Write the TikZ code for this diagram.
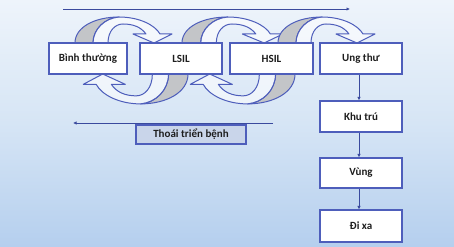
\documentclass[tikz,border=0pt]{standalone}
\usepackage{fontspec}
\setmainfont{Carlito}
\usetikzlibrary{arrows.meta}
\definecolor{bl}{HTML}{4E5EBB}
\definecolor{dk}{HTML}{3A4A9E}
\definecolor{bgtop}{HTML}{EEF4FB}
\definecolor{bgmid}{HTML}{D6E5F5}
\definecolor{bgbot}{HTML}{B5CFEE}
\definecolor{grayfill}{HTML}{C3C5C8}
\definecolor{lblfill}{HTML}{C9D5EA}
\definecolor{txt}{HTML}{1E1E1E}
\tikzset{
  x=1pt, y=1pt,
  box/.style={draw=bl, line width=1.3pt, fill=white, minimum height=31pt,
    inner sep=0pt, text=txt, font=\fontsize{11}{13}\selectfont\bfseries},
  lbl/.style={box, fill=lblfill, minimum width=110pt, minimum height=19pt},
  arcline/.style={draw=bl, line width=1pt, line join=round},
  flow/.style={draw=dk, line width=0.9pt, -{Latex[length=3.5pt,width=3.5pt]}},
}
\newcommand{\curvedband}{%
  \path[arcline, fill=grayfill] (0,0) .. controls (0,16) and (20,26) .. (44,26)
     .. controls (30,25) and (18,14) .. (18,0) -- cycle;
  \path[arcline, fill=white, fill opacity=0.55, draw opacity=1]
     (18,0) .. controls (18,14) and (30,25) .. (44,26)
     .. controls (64,26) and (80,18) .. (85,9)
     -- (97,9) -- (79,0) -- (58,9) -- (71,9)
     .. controls (66,16) and (58,19) .. (48,19)
     .. controls (40,19) and (33,12) .. (33,0) -- cycle;
}
\begin{document}
\begin{tikzpicture}
\useasboundingbox (0,0) rectangle (454,246);
\shade[top color=bgtop, bottom color=bgbot, middle color=bgmid] (0,0) rectangle (454,246);

% curved arrows (over the top)
\begin{scope}[shift={(75,203)}]\curvedband\end{scope}
\begin{scope}[shift={(182,203)}, xscale=1.04]\curvedband\end{scope}
\begin{scope}[shift={(278,203)}]\curvedband\end{scope}
% curved arrows (underneath)
\begin{scope}[shift={(188,172)}, rotate=180, xscale=1.08, yscale=1.15]\curvedband\end{scope}
\begin{scope}[shift={(295,172)}, rotate=180, xscale=1.08, yscale=1.15]\curvedband\end{scope}

% boxes
\node[box, minimum width=78pt] (bt) at (88,187.5) {Bình thường};
\node[box, minimum width=82pt] (lsil) at (181,187.5) {LSIL};
\node[box, minimum width=83pt] (hsil) at (271.5,187.5) {HSIL};
\node[box, minimum width=82pt] (ut) at (361,187.5) {Ung thư};
\node[box, minimum width=82pt] (kt) at (361,129.5) {Khu trú};
\node[box, minimum width=82pt, minimum height=30pt] (vung) at (361,73) {Vùng};
\node[box, minimum width=82pt, minimum height=32pt] (dx) at (361,20) {Đi xa};
\node[lbl] (tt) at (191,111.5) {Thoái triển bệnh};

% straight arrows
\coordinate (ps) at (63,237);
\coordinate (pe) at (350,237);
\coordinate (rs) at (273,123);
\coordinate (re) at (73,123);
\draw[flow] (ps) -- (pe);
\draw[flow] (rs) -- (re);
\draw[flow] ([xshift=-2pt]ut.south) -- ([xshift=-2pt]kt.north);
\draw[flow] ([xshift=-2pt]kt.south) -- ([xshift=-2pt]vung.north);
\draw[flow] ([xshift=-2pt]vung.south) -- ([xshift=-2pt]dx.north);
\end{tikzpicture}
\end{document}
